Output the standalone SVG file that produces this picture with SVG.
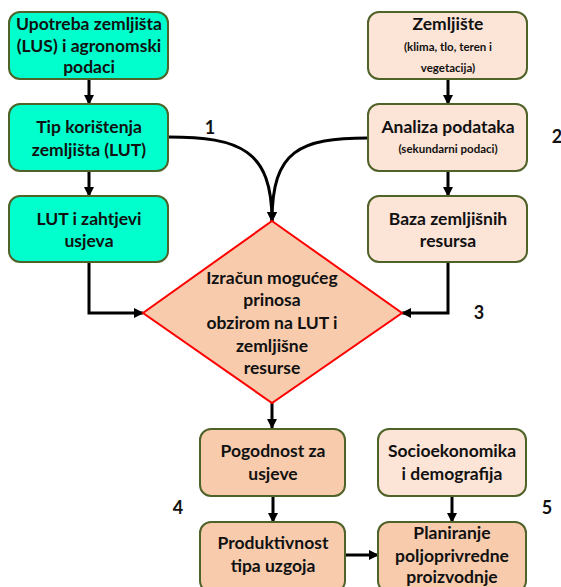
<svg xmlns="http://www.w3.org/2000/svg" width="561" height="587" viewBox="0 0 561 587">
<defs>
<marker id="ah" markerWidth="10" markerHeight="10" refX="9" refY="5" orient="auto" markerUnits="userSpaceOnUse">
<path d="M0,0 L10,5 L0,10 Z" fill="#000"/>
</marker>
<style>
.t{font-family:Lato,"Liberation Sans",sans-serif;font-weight:bold;font-size:17.5px;fill:#111;text-anchor:middle}
.s{font-size:11.5px}
.n{font-family:Lato,"Liberation Sans",sans-serif;font-weight:bold;font-size:18px;fill:#111;text-anchor:middle}
.teal{fill:#00FFCC;stroke:#4F6228;stroke-width:2}
.lp{fill:#FCE4D6;stroke:#4F6228;stroke-width:2}
.dp{fill:#F8CBAD;stroke:#4F6228;stroke-width:2}
.c{fill:none;stroke:#000;stroke-width:3;marker-end:url(#ah)}
</style>
</defs>
<rect width="561" height="587" fill="#fff"/>
<g id="connectors">
<path class="c" d="M89,79 V104"/>
<path class="c" d="M89,171 V196"/>
<path class="c" d="M448,79 V104"/>
<path class="c" d="M448,171 V196"/>
<path class="c" d="M168,137 C240,137 272,150 272,221"/>
<path class="c" d="M368,138 C300,138 272,150 272,221"/>
<path class="c" d="M89,262 V313 H143"/>
<path class="c" d="M448,262 V313 H402"/>
<path class="c" d="M272,403 V428"/>
<path class="c" d="M273,496 V522"/>
<path class="c" d="M452,496 V522"/>
<path class="c" d="M345,555 H378"/>
</g>
<g id="n1"><rect class="teal" x="9" y="12" width="159" height="67" rx="11"/>
<text class="t" x="89" y="30">Upotreba zemljišta</text><text class="t" x="89" y="52">(LUS) i agronomski</text><text class="t" x="89" y="73">podaci</text></g>
<g id="n2"><rect class="teal" x="9" y="104" width="159" height="67" rx="11"/>
<text class="t" x="89" y="133">Tip korištenja</text><text class="t" x="89" y="156">zemljišta (LUT)</text></g>
<g id="n3"><rect class="teal" x="9" y="196" width="159" height="66" rx="11"/>
<text class="t" x="89" y="225">LUT i zahtjevi</text><text class="t" x="89" y="247">usjeva</text></g>
<g id="n4"><rect class="lp" x="368" y="12" width="159" height="67" rx="11"/>
<text class="t" x="448" y="30">Zemljište</text><text class="t s" x="448" y="51">(klima, tlo, teren i</text><text class="t s" x="448" y="72">vegetacija)</text></g>
<g id="n5"><rect class="lp" x="368" y="104" width="159" height="67" rx="11"/>
<text class="t" x="448" y="133">Analiza podataka</text><text class="t s" x="448" y="153">(sekundarni podaci)</text></g>
<g id="n6"><rect class="lp" x="368" y="196" width="159" height="66" rx="11"/>
<text class="t" x="448" y="225">Baza zemljišnih</text><text class="t" x="448" y="247">resursa</text></g>
<g id="n7"><path d="M272,221 L402,313 L272,403 L143,313 Z" fill="#F8CBAD" stroke="#FF0000" stroke-width="2"/>
<text class="t" x="272" y="284">Izračun mogućeg</text><text class="t" x="272" y="306">prinosa</text><text class="t" x="272" y="329">obzirom na LUT i</text><text class="t" x="272" y="352">zemljišne</text><text class="t" x="272" y="374">resurse</text></g>
<g id="n8"><rect class="dp" x="200" y="429" width="145" height="67" rx="11"/>
<text class="t" x="273" y="457">Pogodnost za</text><text class="t" x="273" y="480">usjeve</text></g>
<g id="n9"><rect class="dp" x="200" y="522" width="145" height="70" rx="11"/>
<text class="t" x="273" y="549">Produktivnost</text><text class="t" x="273" y="572">tipa uzgoja</text></g>
<g id="n10"><rect class="lp" x="378" y="429" width="148" height="67" rx="11"/>
<text class="t" x="452" y="457">Socioekonomika</text><text class="t" x="452" y="480">i demografija</text></g>
<g id="n11"><rect class="dp" x="378" y="522" width="148" height="70" rx="11"/>
<text class="t" x="452" y="539">Planiranje</text><text class="t" x="452" y="562">poljoprivredne</text><text class="t" x="452" y="583">proizvodnje</text></g>
<g id="labels">
<text class="n" x="210" y="134">1</text>
<text class="n" x="557" y="143">2</text>
<text class="n" x="479" y="319">3</text>
<text class="n" x="178" y="514">4</text>
<text class="n" x="547" y="514">5</text>
</g>
</svg>
